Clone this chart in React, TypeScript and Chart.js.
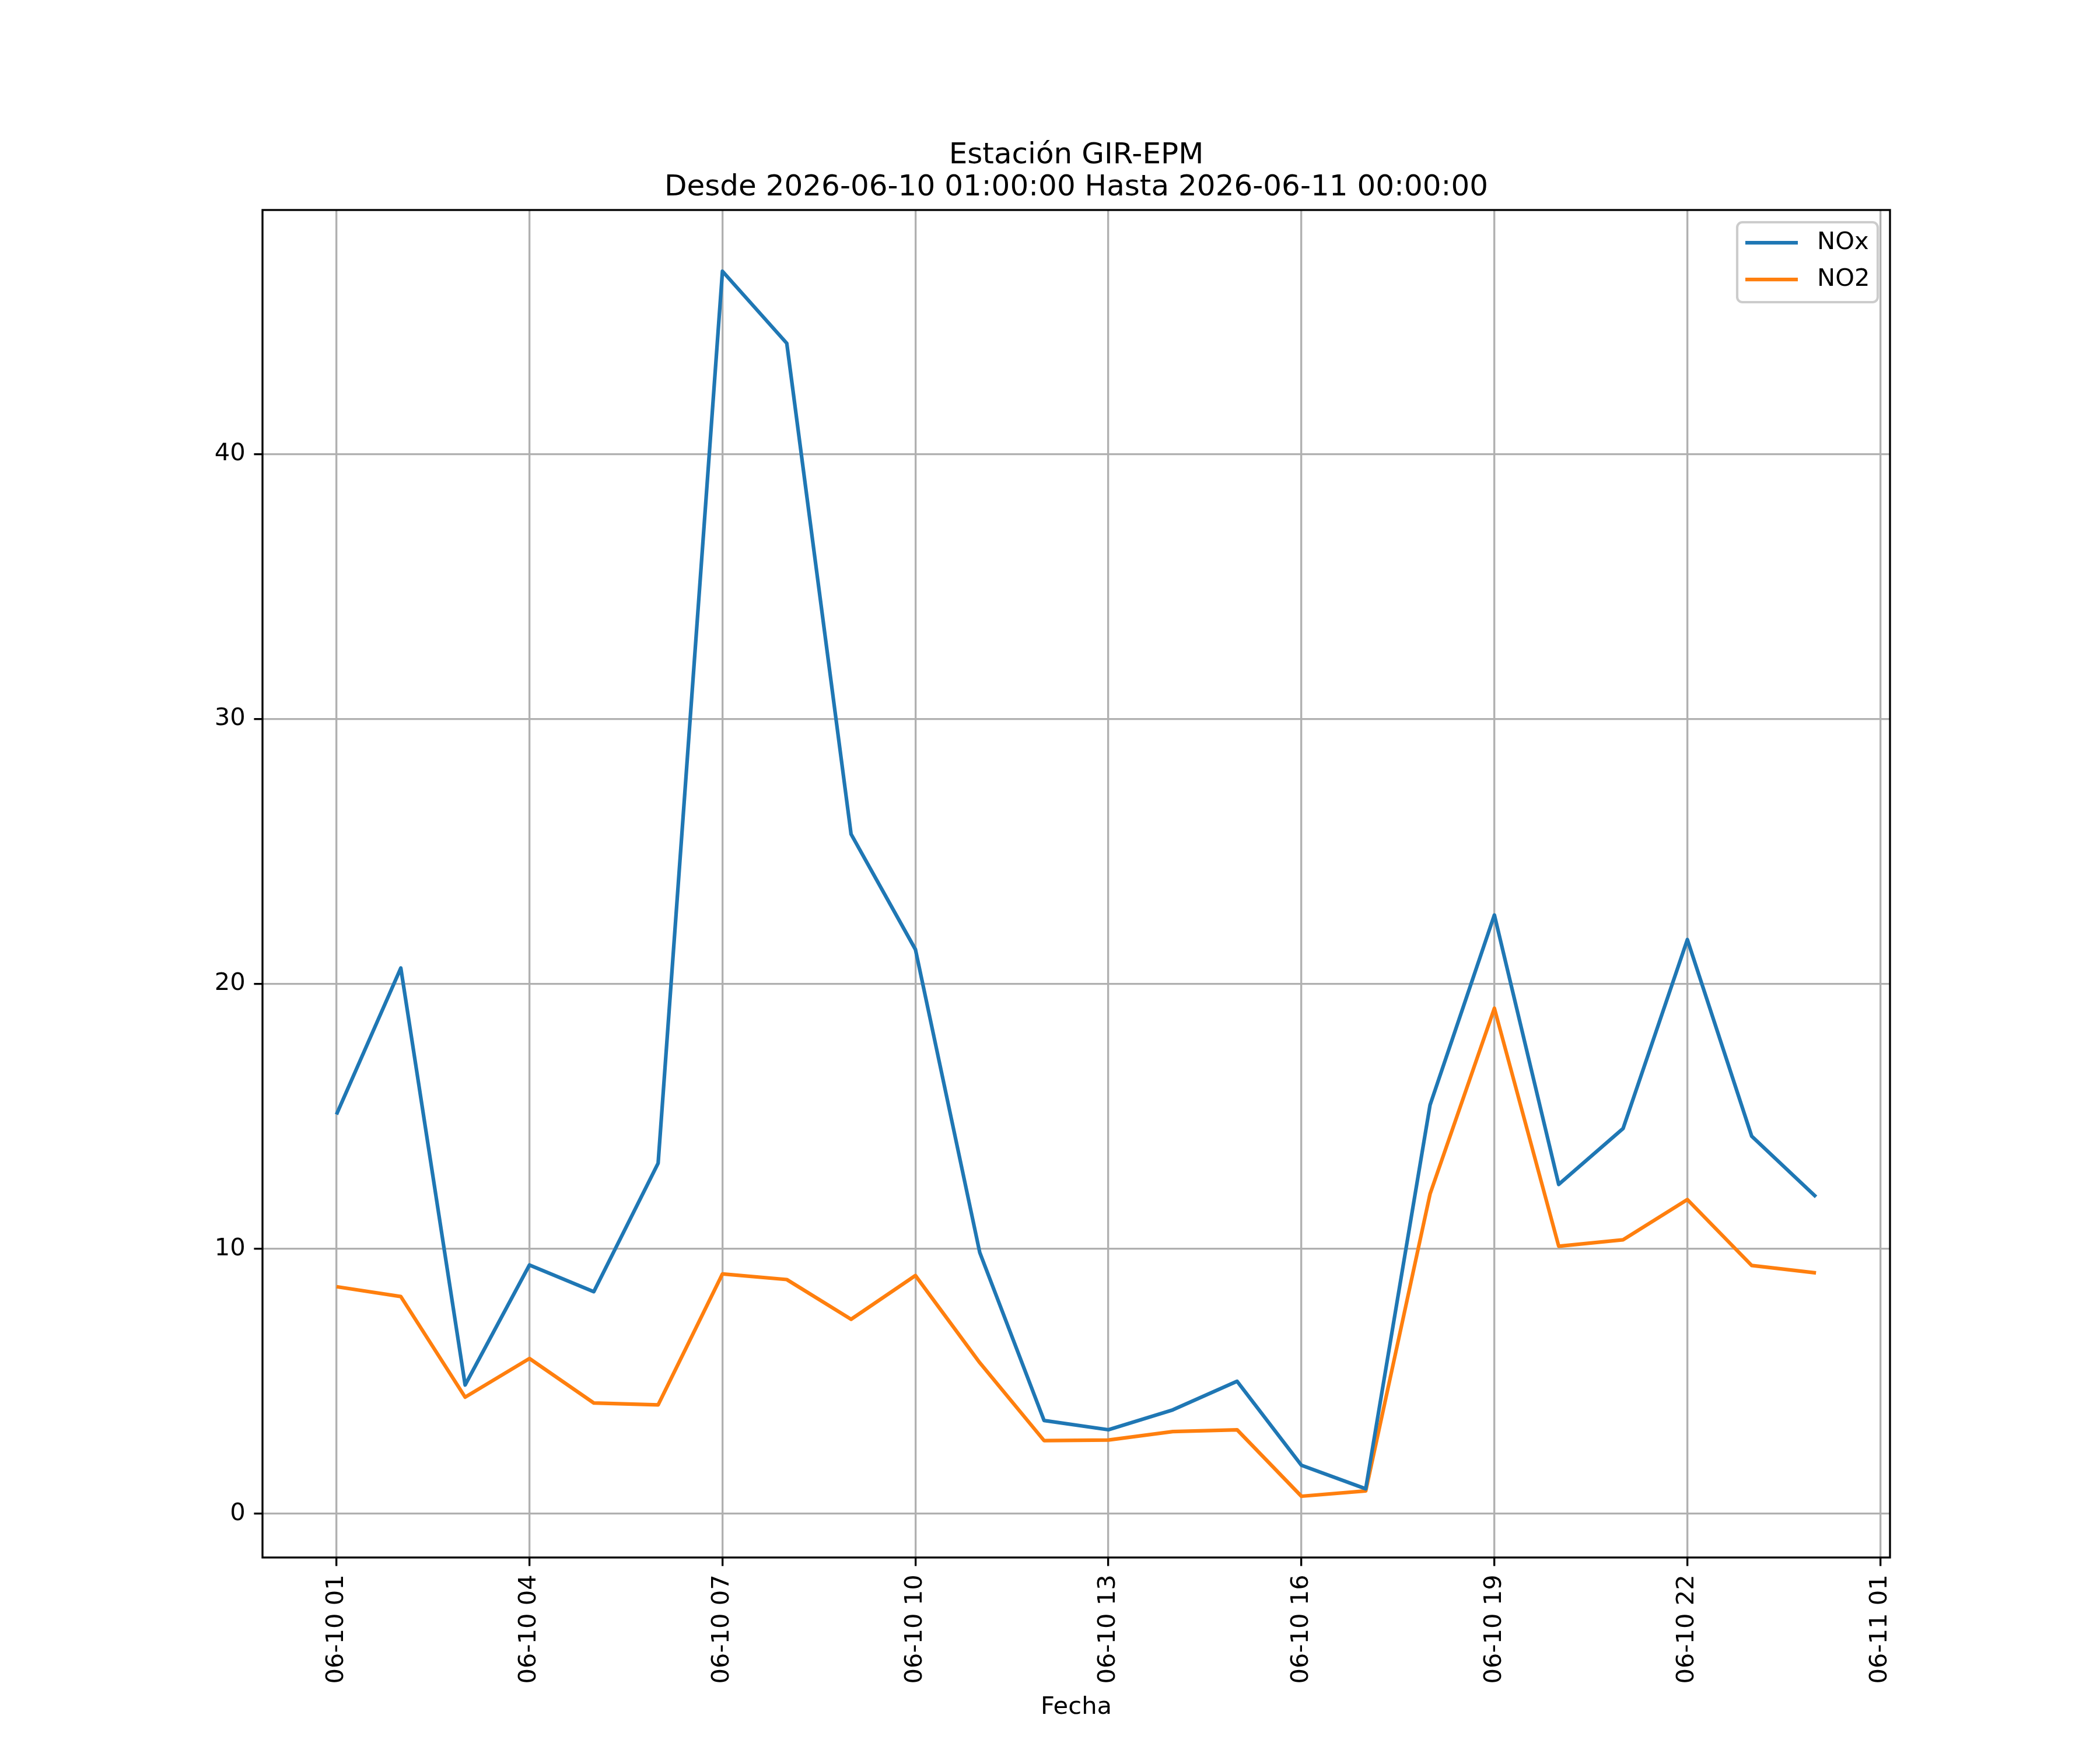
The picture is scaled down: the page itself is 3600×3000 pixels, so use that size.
import React, { useEffect, useRef } from "react";
import { Chart, registerables } from "chart.js";

Chart.register(...registerables);

const FONT = "'DejaVu Sans'";

const fechas = [
  "2026-06-10 01:00:00", "2026-06-10 02:00:00", "2026-06-10 03:00:00",
  "2026-06-10 04:00:00", "2026-06-10 05:00:00", "2026-06-10 06:00:00",
  "2026-06-10 07:00:00", "2026-06-10 08:00:00", "2026-06-10 09:00:00",
  "2026-06-10 10:00:00", "2026-06-10 11:00:00", "2026-06-10 12:00:00",
  "2026-06-10 13:00:00", "2026-06-10 14:00:00", "2026-06-10 15:00:00",
  "2026-06-10 16:00:00", "2026-06-10 17:00:00", "2026-06-10 18:00:00",
  "2026-06-10 19:00:00", "2026-06-10 20:00:00", "2026-06-10 21:00:00",
  "2026-06-10 22:00:00", "2026-06-10 23:00:00", "2026-06-11 00:00:00",
];

const nox = [
  15.07, 20.6, 4.86, 9.39, 8.38, 13.23, 46.9, 44.18, 25.65, 21.3, 9.86, 3.52,
  3.17, 3.92, 5.0, 1.83, 0.94, 15.43, 22.6, 12.43, 14.54, 21.67, 14.25, 11.96,
];

const no2 = [
  8.57, 8.2, 4.4, 5.86, 4.18, 4.11, 9.05, 8.84, 7.34, 8.99, 5.7, 2.76,
  2.78, 3.1, 3.17, 0.66, 0.86, 12.07, 19.08, 10.1, 10.34, 11.86, 9.37, 9.09,
];

const xTicks = [
  "2026-06-10 01:00:00", "2026-06-10 04:00:00", "2026-06-10 07:00:00",
  "2026-06-10 10:00:00", "2026-06-10 13:00:00", "2026-06-10 16:00:00",
  "2026-06-10 19:00:00", "2026-06-10 22:00:00", "2026-06-11 01:00:00",
];
const xTickLabels = [
  "06-10 01", "06-10 04", "06-10 07", "06-10 10", "06-10 13",
  "06-10 16", "06-10 19", "06-10 22", "06-11 01",
];
const yTicks = [0, 10, 20, 30, 40];

const titleLines = [
  "Estación GIR-EPM",
  "Desde 2026-06-10 01:00:00 Hasta 2026-06-11 00:00:00",
];

// hours since first sample
const t0 = Date.parse(fechas[0].replace(" ", "T"));
const toHours = (s: string) => (Date.parse(s.replace(" ", "T")) - t0) / 3600000;

const PT = 300 / 72; // px per point (figure at 300 dpi)

// frame, title and legend drawn like matplotlib
const decor = {
  id: "mplDecor",
  afterDraw(chart: any) {
    const { ctx, chartArea: a } = chart;
    ctx.save();
    ctx.strokeStyle = "#000";
    ctx.lineWidth = 0.8 * PT;
    ctx.strokeRect(a.left, a.top, a.right - a.left, a.bottom - a.top);

    ctx.fillStyle = "#000";
    ctx.font = `${12 * PT}px ${FONT}`;
    ctx.textAlign = "center";
    ctx.textBaseline = "alphabetic";
    const cx = (a.left + a.right) / 2;
    titleLines.forEach((t, i) => ctx.fillText(t, cx, a.top - 80 + i * 55));

    // legend box
    const w = 241;
    const h = 137;
    const lx = a.right - 21 - w;
    const ly = a.top + 21;
    ctx.beginPath();
    ctx.roundRect(lx, ly, w, h, 9);
    ctx.fillStyle = "rgba(255,255,255,0.8)";
    ctx.fill();
    ctx.strokeStyle = "#cccccc";
    ctx.lineWidth = 1.0 * PT;
    ctx.stroke();

    ctx.font = `${10 * PT}px ${FONT}`;
    ctx.textAlign = "left";
    ctx.textBaseline = "middle";
    chart.data.datasets.forEach((ds: any, i: number) => {
      const y = ly + 35 + i * 63;
      ctx.beginPath();
      ctx.moveTo(lx + 14, y);
      ctx.lineTo(lx + 104, y);
      ctx.strokeStyle = ds.borderColor;
      ctx.lineWidth = 1.5 * PT;
      ctx.stroke();
      ctx.fillStyle = "#000";
      ctx.fillText(ds.label, lx + 137, y);
    });
    ctx.restore();
  },
};

const App = () => {
  const canvasRef = useRef<HTMLCanvasElement | null>(null);

  useEffect(() => {
    const xs = fechas.map(toHours);
    const xSpan = xs[xs.length - 1] - xs[0];
    const all = [...nox, ...no2];
    const lo = Math.min(...all);
    const hi = Math.max(...all);
    const yPad = (hi - lo) * 0.05;

    const tickFont = { family: FONT, size: 10 * PT };

    const chart = new Chart(canvasRef.current as HTMLCanvasElement, {
      type: "line",
      data: {
        datasets: [
          {
            label: "NOx",
            data: xs.map((x, i) => ({ x, y: nox[i] })),
            borderColor: "#1f77b4",
            backgroundColor: "#1f77b4",
            borderWidth: 1.5 * PT,
            pointRadius: 0,
            tension: 0,
            borderJoinStyle: "round",
          },
          {
            label: "NO2",
            data: xs.map((x, i) => ({ x, y: no2[i] })),
            borderColor: "#ff7f0e",
            backgroundColor: "#ff7f0e",
            borderWidth: 1.5 * PT,
            pointRadius: 0,
            tension: 0,
            borderJoinStyle: "round",
          },
        ],
      },
      options: {
        responsive: false,
        animation: false,
        devicePixelRatio: 1,
        layout: { padding: { top: 360, right: 360, left: 0, bottom: 0 } },
        plugins: {
          legend: { display: false },
          title: { display: false },
          tooltip: { enabled: false },
        },
        scales: {
          x: {
            type: "linear",
            min: xs[0] - xSpan * 0.05,
            max: xs[xs.length - 1] + xSpan * 0.05,
            afterBuildTicks: (scale: any) => {
              scale.ticks = xTicks.map((t) => ({ value: toHours(t) }));
            },
            afterFit: (scale: any) => {
              scale.height = 330;
            },
            ticks: {
              autoSkip: false,
              maxRotation: 90,
              minRotation: 90,
              padding: 3.5 * PT,
              color: "#000",
              font: tickFont,
              callback: (_v: any, i: number) => xTickLabels[i],
            },
            grid: {
              color: "#b0b0b0",
              lineWidth: 0.8 * PT,
              tickColor: "#000",
              tickWidth: 0.8 * PT,
              tickLength: 3.5 * PT,
            },
            border: { display: false },
            title: {
              display: true,
              text: "Fecha",
              color: "#000",
              font: tickFont,
              padding: { top: 0, bottom: 48 },
            },
          },
          y: {
            type: "linear",
            min: lo - yPad,
            max: hi + yPad,
            afterBuildTicks: (scale: any) => {
              scale.ticks = yTicks.map((v) => ({ value: v }));
            },
            afterFit: (scale: any) => {
              scale.width = 450;
            },
            ticks: {
              padding: 3.5 * PT,
              color: "#000",
              font: tickFont,
              callback: (v: any) => String(v),
            },
            grid: {
              color: "#b0b0b0",
              lineWidth: 0.8 * PT,
              tickColor: "#000",
              tickWidth: 0.8 * PT,
              tickLength: 3.5 * PT,
            },
            border: { display: false },
          },
        },
      },
      plugins: [decor],
    } as any);

    return () => {
      chart.destroy();
    };
  }, []);

  return (
    <div
      style={{
        position: "absolute",
        left: 0,
        top: 0,
        width: 3600,
        height: 3000,
        background: "#fff",
      }}
    >
      <canvas ref={canvasRef} width={3600} height={3000} />
    </div>
  );
};

export default App;
